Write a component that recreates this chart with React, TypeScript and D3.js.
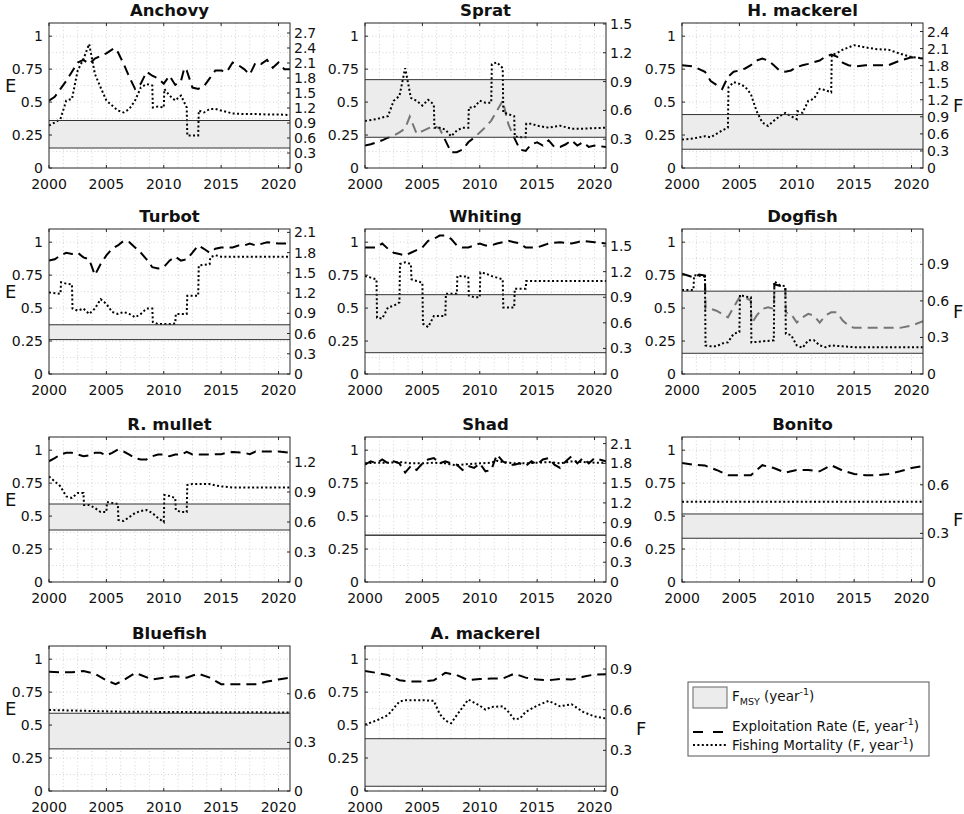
import * as d3 from "d3"

type Pt = [number, number]

const species = ["Anchovy", "Sprat", "H. mackerel", "Turbot", "Whiting", "Dogfish", "R. mullet", "Shad", "Bonito", "Bluefish", "A. mackerel"]

const yearTicks = [2000, 2005, 2010, 2015, 2020]
const eTicks = [0, 0.25, 0.5, 0.75, 1]
const fTickStep = 0.3

// right axis upper limit per species (F, year^-1)
const fAxisMax = [2.9, 1.51, 2.55, 2.15, 1.7, 1.19, 1.45, 2.2, 0.895, 0.895, 1.07]
// F_MSY band, lower / upper (F units)
const fmsyLo = [0.40, 0.32, 0.33, 0.51, 0.25, 0.17, 0.52, 0.71, 0.27, 0.26, 0.035]
const fmsyHi = [0.95, 0.92, 0.94, 0.73, 0.93, 0.68, 0.78, 0.71, 0.42, 0.48, 0.386]

// exploitation rate E (left axis)
const anchovyE: Pt[] = [[2000,0.51],[2000.5,0.54],[2001,0.60],[2001.5,0.66],[2002,0.73],[2002.5,0.80],[2003,0.82],[2003.5,0.79],[2004,0.83],[2004.5,0.85],[2005,0.87],[2005.7,0.91],[2006,0.88],[2006.5,0.79],[2007,0.69],[2007.5,0.60],[2008,0.64],[2008.5,0.73],[2009,0.70],[2009.5,0.68],[2010,0.64],[2010.5,0.70],[2011,0.63],[2011.5,0.66],[2011.8,0.76],[2012,0.74],[2012.5,0.61],[2013,0.60],[2013.5,0.62],[2014,0.68],[2014.5,0.74],[2015,0.74],[2015.5,0.73],[2016,0.80],[2016.5,0.78],[2017,0.75],[2017.5,0.71],[2018,0.80],[2018.5,0.79],[2019,0.82],[2019.5,0.76],[2020,0.80],[2020.5,0.75],[2021,0.75]]
const spratE: Pt[] = [[2000,0.17],[2000.5,0.18],[2001,0.195],[2001.5,0.21],[2002,0.23],[2002.5,0.245],[2003,0.27],[2003.5,0.30],[2003.9,0.39],[2004.5,0.26],[2005,0.28],[2005.5,0.30],[2006,0.32],[2006.5,0.30],[2007,0.21],[2007.5,0.12],[2008,0.12],[2008.5,0.14],[2009,0.195],[2009.5,0.23],[2010,0.27],[2010.5,0.31],[2011,0.36],[2011.5,0.435],[2012,0.51],[2012.5,0.33],[2013,0.23],[2013.5,0.14],[2014,0.13],[2014.5,0.18],[2015,0.195],[2015.5,0.17],[2016,0.21],[2016.5,0.16],[2017,0.16],[2017.5,0.18],[2018,0.21],[2018.5,0.17],[2019,0.195],[2019.5,0.16],[2020,0.17],[2021,0.16]]
const hMackerelE: Pt[] = [[2000,0.78],[2001,0.77],[2002,0.73],[2002.5,0.66],[2003,0.63],[2003.5,0.60],[2004,0.69],[2004.5,0.73],[2005,0.74],[2005.5,0.755],[2006,0.78],[2006.5,0.815],[2007,0.83],[2007.5,0.815],[2008,0.78],[2008.5,0.74],[2009,0.73],[2009.5,0.74],[2010,0.765],[2010.5,0.78],[2011,0.79],[2012,0.815],[2012.5,0.845],[2013,0.86],[2013.5,0.845],[2014,0.80],[2014.5,0.78],[2015,0.77],[2016,0.78],[2017,0.78],[2018,0.78],[2019,0.815],[2020,0.84],[2021,0.83]]
const turbotE: Pt[] = [[2000,0.86],[2000.5,0.87],[2001,0.90],[2001.5,0.92],[2002,0.91],[2002.5,0.92],[2003,0.885],[2003.5,0.87],[2004,0.75],[2004.5,0.835],[2005,0.90],[2005.5,0.95],[2006,0.975],[2006.5,1.01],[2007,1.0],[2007.5,0.96],[2008,0.92],[2008.5,0.87],[2009,0.81],[2009.5,0.80],[2010,0.81],[2010.5,0.86],[2011,0.89],[2011.5,0.86],[2012,0.87],[2012.5,0.92],[2013,0.975],[2013.5,0.95],[2014,0.92],[2014.5,0.95],[2015,0.96],[2016,0.96],[2016.5,0.975],[2017,0.975],[2017.5,0.99],[2018,0.975],[2019,1.0],[2020,0.99],[2021,0.99]]
const whitingE: Pt[] = [[2000,0.96],[2001,0.96],[2001.5,0.99],[2002,0.95],[2002.5,0.92],[2003,0.91],[2003.5,0.90],[2004,0.92],[2004.5,0.94],[2005,0.96],[2005.5,1.01],[2006,1.025],[2006.5,1.05],[2007,1.05],[2007.5,1.025],[2008,0.975],[2008.5,0.96],[2009,0.96],[2009.5,0.975],[2010,0.99],[2010.5,0.975],[2011,0.975],[2011.5,0.99],[2012,1.0],[2012.5,1.01],[2013,1.0],[2013.5,0.99],[2014,0.96],[2015,0.96],[2015.5,0.975],[2016,0.99],[2017,1.0],[2018,0.99],[2018.5,1.0],[2019,1.01],[2020,1.0],[2021,0.99]]
const dogfishE: Pt[] = [[2000,0.76],[2000.5,0.747],[2001,0.734],[2001.5,0.754],[2002,0.747],[2002.05,0.494],[2002.5,0.494],[2003,0.48],[2003.5,0.456],[2004,0.43],[2004.5,0.506],[2005,0.58],[2005.5,0.58],[2006,0.557],[2006.05,0.38],[2006.5,0.443],[2007,0.494],[2007.5,0.506],[2008,0.494],[2008.05,0.68],[2008.5,0.67],[2009,0.66],[2009.05,0.468],[2009.5,0.456],[2010,0.39],[2010.5,0.43],[2011,0.456],[2011.5,0.443],[2012,0.39],[2012.5,0.443],[2013,0.468],[2013.5,0.468],[2014,0.405],[2014.5,0.367],[2015,0.35],[2019,0.35],[2020,0.367],[2021,0.40]]
const rMulletE: Pt[] = [[2000,0.916],[2000.5,0.94],[2001,0.967],[2001.5,0.98],[2002,0.98],[2002.5,0.967],[2003,0.954],[2003.5,0.96],[2004,0.98],[2004.5,0.98],[2005,0.96],[2005.5,0.98],[2006,1.005],[2006.5,0.99],[2007,0.967],[2007.5,0.94],[2008,0.93],[2008.5,0.93],[2009,0.954],[2009.5,0.967],[2010,0.967],[2010.5,0.954],[2011,0.967],[2011.5,0.967],[2012,0.987],[2012.5,0.967],[2013,0.967],[2014,0.967],[2015,0.97],[2015.5,0.98],[2016,0.987],[2017,0.98],[2017.5,0.97],[2018,0.99],[2019,0.99],[2020,0.99],[2021,0.98]]
const shadE: Pt[] = [[2000,0.89],[2000.5,0.916],[2001,0.90],[2001.5,0.93],[2002,0.90],[2002.5,0.916],[2003,0.90],[2003.5,0.83],[2004,0.88],[2004.5,0.85],[2005,0.90],[2005.5,0.93],[2006,0.94],[2006.5,0.90],[2007,0.916],[2007.5,0.90],[2008,0.89],[2008.5,0.85],[2009,0.88],[2009.5,0.865],[2010,0.90],[2010.5,0.84],[2011,0.85],[2011.5,0.967],[2012,0.916],[2012.5,0.89],[2013,0.89],[2013.5,0.90],[2014,0.88],[2014.5,0.916],[2015,0.89],[2015.5,0.93],[2016,0.94],[2016.5,0.89],[2017,0.865],[2017.5,0.916],[2018,0.954],[2018.5,0.90],[2019,0.94],[2019.5,0.90],[2020,0.94],[2021,0.916]]
const bonitoE: Pt[] = [[2000,0.903],[2001,0.89],[2002,0.883],[2003,0.85],[2004,0.81],[2005,0.81],[2006,0.81],[2007,0.886],[2008,0.865],[2009,0.83],[2010,0.85],[2011,0.85],[2012,0.84],[2013,0.886],[2014,0.845],[2015,0.82],[2016,0.81],[2017,0.81],[2018,0.82],[2019,0.84],[2020,0.865],[2021,0.88]]
const bluefishE: Pt[] = [[2000,0.904],[2001,0.90],[2002,0.90],[2003,0.91],[2004,0.89],[2005,0.84],[2005.8,0.81],[2006.5,0.84],[2007.5,0.896],[2008,0.88],[2009,0.846],[2010,0.86],[2011,0.87],[2012,0.86],[2013,0.89],[2014,0.86],[2015,0.81],[2016,0.81],[2017,0.81],[2018,0.81],[2019,0.83],[2020,0.846],[2021,0.86]]
const aMackerelE: Pt[] = [[2000,0.91],[2001,0.896],[2002,0.88],[2003,0.84],[2004,0.83],[2005,0.83],[2006,0.84],[2007,0.896],[2008,0.88],[2009,0.84],[2010,0.85],[2011,0.853],[2012,0.853],[2013,0.89],[2014,0.86],[2015,0.845],[2016,0.84],[2017,0.85],[2018,0.845],[2019,0.866],[2020,0.884],[2021,0.886]]

// fishing mortality F (right axis)
const anchovyF: Pt[] = [[2000,0.85],[2000.5,0.91],[2001,0.98],[2001.5,1.35],[2002,1.38],[2002.5,1.95],[2003,2.18],[2003.5,2.48],[2004,1.88],[2004.5,1.61],[2005,1.35],[2005.5,1.25],[2006,1.15],[2006.5,1.11],[2007,1.18],[2007.5,1.35],[2008,1.61],[2008.5,1.68],[2009,1.65],[2009.05,1.21],[2009.5,1.23],[2010,1.21],[2010.05,1.58],[2010.5,1.45],[2011,1.35],[2011.5,1.45],[2012,1.21],[2012.05,0.65],[2012.5,0.65],[2013,0.65],[2013.05,1.15],[2013.5,1.11],[2014,1.18],[2014.5,1.18],[2015,1.15],[2016,1.09],[2017,1.08],[2018,1.08],[2019,1.07],[2020,1.07],[2021,1.06]]
const spratF: Pt[] = [[2000,0.49],[2001,0.51],[2002,0.54],[2002.5,0.70],[2003,0.75],[2003.5,1.04],[2004,0.73],[2004.5,0.70],[2005,0.65],[2005.5,0.71],[2006,0.66],[2006.05,0.42],[2006.5,0.42],[2007,0.40],[2007.5,0.33],[2008,0.39],[2008.5,0.42],[2009,0.42],[2009.05,0.63],[2009.5,0.63],[2010,0.70],[2010.5,0.68],[2011,0.68],[2011.05,1.08],[2011.5,1.10],[2012,1.04],[2012.05,0.58],[2012.5,0.56],[2013,0.54],[2013.05,0.33],[2013.5,0.32],[2014,0.32],[2014.05,0.46],[2014.5,0.46],[2015,0.44],[2016,0.42],[2017,0.44],[2018,0.41],[2019,0.41],[2021,0.42]]
const hMackerelF: Pt[] = [[2000,0.50],[2001,0.52],[2002,0.56],[2002.5,0.54],[2003,0.60],[2003.5,0.66],[2004,0.71],[2004.05,1.42],[2004.5,1.51],[2005,1.48],[2005.5,1.43],[2006,1.30],[2006.5,1.00],[2007,0.80],[2007.5,0.74],[2008,0.83],[2008.5,0.91],[2009,0.97],[2009.5,0.91],[2010,0.86],[2010.05,1.00],[2010.5,0.97],[2011,1.18],[2011.5,1.22],[2012,1.39],[2012.5,1.37],[2013,1.33],[2013.05,1.99],[2013.5,2.02],[2014,2.08],[2015,2.16],[2016,2.12],[2017,2.09],[2018,2.08],[2019,2.01],[2020,1.95],[2021,1.93]]
const turbotF: Pt[] = [[2000,1.21],[2001,1.19],[2001.05,1.36],[2001.5,1.34],[2002,1.33],[2002.05,0.97],[2002.5,0.94],[2003,0.97],[2003.5,0.89],[2004,0.97],[2004.5,1.11],[2005,1.04],[2005.5,0.92],[2006,0.89],[2006.5,0.92],[2007,0.89],[2007.5,0.84],[2008,0.89],[2008.5,0.97],[2009,0.97],[2009.05,0.77],[2009.5,0.74],[2010.5,0.74],[2011,0.75],[2011.05,0.89],[2012,0.89],[2012.05,1.16],[2013,1.16],[2013.05,1.61],[2014,1.63],[2014.05,1.73],[2014.5,1.76],[2015,1.74],[2021,1.74]]
const whitingF: Pt[] = [[2000,1.15],[2000.5,1.13],[2001,1.11],[2001.05,0.66],[2001.5,0.65],[2002,0.78],[2002.5,0.80],[2003,0.84],[2003.05,1.29],[2003.5,1.31],[2004,1.29],[2004.05,1.11],[2004.5,1.09],[2005,1.07],[2005.05,0.59],[2005.5,0.55],[2006,0.68],[2007,0.68],[2007.05,0.94],[2008,0.94],[2008.05,1.15],[2009,1.14],[2009.05,0.92],[2009.5,0.90],[2010,0.90],[2010.05,1.19],[2010.5,1.18],[2011,1.15],[2011.5,1.13],[2012,1.11],[2012.05,0.78],[2013,0.78],[2013.05,1.0],[2014,1.0],[2014.05,1.09],[2021,1.09]]
const dogfishF: Pt[] = [[2000,0.69],[2001,0.69],[2001.05,0.81],[2002,0.80],[2002.05,0.235],[2002.5,0.227],[2003,0.227],[2003.5,0.25],[2004,0.26],[2004.5,0.33],[2005,0.345],[2005.05,0.65],[2005.5,0.635],[2006,0.63],[2006.05,0.26],[2008,0.276],[2008.05,0.76],[2008.5,0.73],[2009,0.72],[2009.05,0.33],[2009.5,0.32],[2010,0.235],[2010.5,0.215],[2011,0.276],[2011.5,0.276],[2012,0.235],[2012.5,0.22],[2013,0.235],[2014,0.227],[2015,0.22],[2021,0.22]]
const rMulletF: Pt[] = [[2000,1.055],[2000.5,1.006],[2001,0.956],[2001.5,0.856],[2002,0.84],[2002.5,0.89],[2003,0.89],[2003.05,0.77],[2003.5,0.77],[2004,0.74],[2004.5,0.70],[2005,0.70],[2005.05,0.80],[2005.5,0.79],[2006,0.78],[2006.05,0.62],[2006.5,0.61],[2007,0.65],[2007.5,0.69],[2008,0.71],[2008.5,0.72],[2009,0.69],[2009.5,0.64],[2010,0.60],[2010.05,0.87],[2010.5,0.86],[2011,0.84],[2011.05,0.72],[2011.5,0.70],[2012,0.70],[2012.05,0.97],[2012.5,0.98],[2014,0.98],[2014.5,0.966],[2015,0.956],[2016,0.945],[2021,0.945]]
const shadF: Pt[] = [[2000,1.80],[2001,1.81],[2002,1.81],[2003,1.82],[2004,1.80],[2005,1.80],[2006,1.81],[2007,1.80],[2008,1.77],[2009,1.79],[2010,1.80],[2011,1.81],[2011.5,1.84],[2012,1.82],[2013,1.80],[2014,1.80],[2015,1.81],[2016,1.82],[2017,1.80],[2018,1.83],[2019,1.82],[2020,1.81],[2021,1.81]]
const bonitoF: Pt[] = [[2000,0.495],[2005,0.495],[2010,0.495],[2015,0.495],[2021,0.495]]
const bluefishF: Pt[] = [[2000,0.50],[2003,0.495],[2006,0.49],[2010,0.488],[2015,0.486],[2021,0.485]]
const aMackerelF: Pt[] = [[2000,0.49],[2001,0.52],[2002,0.56],[2003,0.66],[2003.5,0.67],[2004,0.67],[2005,0.67],[2006,0.665],[2006.5,0.57],[2007,0.52],[2007.5,0.50],[2008,0.56],[2009,0.675],[2010,0.63],[2010.5,0.60],[2011,0.62],[2012,0.625],[2012.5,0.584],[2013,0.53],[2013.5,0.535],[2014,0.584],[2015,0.63],[2016,0.665],[2017,0.625],[2018,0.64],[2019,0.584],[2020,0.55],[2021,0.535]]

const eSeries = [anchovyE, spratE, hMackerelE, turbotE, whitingE, dogfishE, rMulletE, shadE, bonitoE, bluefishE, aMackerelE]
const fSeries = [anchovyF, spratF, hMackerelF, turbotF, whitingF, dogfishF, rMulletF, shadF, bonitoF, bluefishF, aMackerelF]

const FONT = "DejaVu Sans, Liberation Sans, sans-serif"
const colX = [49, 365, 682]
const rowY = [23, 229, 437, 646]
const W = 241
const H = 145
const INK = "#262626"
const BAND = "#ececec"
const DASH = "10,6"
const DOT = "2,2.4"

type PanelProps = { i: number, left: number, top: number, showE: boolean, showF: boolean }

const Panel = ({ i, left, top, showE, showF }: PanelProps) => {
  const x = d3.scaleLinear().domain([2000, 2021]).range([left, left + W])
  const yE = d3.scaleLinear().domain([0, 1.1]).range([top + H, top])
  const yF = d3.scaleLinear().domain([0, fAxisMax[i]]).range([top + H, top])

  const lineE = d3.line<Pt>().x(d => x(d[0])).y(d => yE(d[1]))
  const lineF = d3.line<Pt>().x(d => x(d[0])).y(d => yF(d[1]))

  const gridX = d3.range(2001.25, 2021, 1.25)
  const gridY = d3.range(0.125, 1.1, 0.125)
  const fTicks = d3.range(0, fAxisMax[i] + 1e-6, fTickStep)

  const bandTop = yF(fmsyHi[i])
  const bandBot = yF(fmsyLo[i])
  const clipId = `clip${i}`
  const midY = top + H / 2

  return (
    <g>
      <defs>
        <clipPath id={clipId}><rect x={left} y={top} width={W} height={H} /></clipPath>
      </defs>
      <rect x={left} y={top} width={W} height={H} fill="#fff" />
      <g stroke="#c9c9c9" strokeWidth={0.8} strokeDasharray="1,2.5">
        {gridX.map(g => <line key={"gx" + g} x1={x(g)} x2={x(g)} y1={top} y2={top + H} />)}
        {gridY.map(g => <line key={"gy" + g} x1={left} x2={left + W} y1={yE(g)} y2={yE(g)} />)}
      </g>
      <rect x={left} y={bandTop} width={W} height={bandBot - bandTop} fill={BAND} />
      <g clipPath={`url(#${clipId})`}>
        <path d={lineE(eSeries[i]) ?? ""} fill="none" stroke="#000" strokeWidth={2} strokeDasharray={DASH} />
        {/* the F_MSY patch sits over the E line, greying it inside the band */}
        <rect x={left} y={bandTop} width={W} height={bandBot - bandTop} fill={BAND} fillOpacity={0.5} />
        <path d={lineF(fSeries[i]) ?? ""} fill="none" stroke="#000" strokeWidth={2} strokeDasharray={DOT} />
      </g>
      <line x1={left} x2={left + W} y1={bandTop} y2={bandTop} stroke="#333" strokeWidth={1} />
      <line x1={left} x2={left + W} y1={bandBot} y2={bandBot} stroke="#333" strokeWidth={1} />
      <rect x={left} y={top} width={W} height={H} fill="none" stroke={INK} strokeWidth={1} />

      {yearTicks.map(t => (
        <g key={"xt" + t}>
          <line x1={x(t)} x2={x(t)} y1={top + H} y2={top + H - 3} stroke={INK} />
          <line x1={x(t)} x2={x(t)} y1={top} y2={top + 3} stroke={INK} />
          <text x={x(t)} y={top + H + 21} textAnchor="middle" fontSize={14} fontFamily={FONT} fill="#111">{t}</text>
        </g>
      ))}
      {eTicks.map(t => (
        <g key={"et" + t}>
          <line x1={left} x2={left + 3} y1={yE(t)} y2={yE(t)} stroke={INK} />
          <text x={left - 6} y={yE(t)} dy="0.36em" textAnchor="end" fontSize={14} fontFamily={FONT} fill="#111">{String(t)}</text>
        </g>
      ))}
      {fTicks.map(t => (
        <g key={"ft" + t}>
          <line x1={left + W} x2={left + W - 3} y1={yF(t)} y2={yF(t)} stroke={INK} />
          <text x={left + W + 4} y={yF(t)} dy="0.36em" textAnchor="start" fontSize={14} fontFamily={FONT} fill="#111">{t < 1e-6 ? "0" : t.toFixed(1)}</text>
        </g>
      ))}

      <text x={left + W / 2} y={top - 7} textAnchor="middle" fontSize={16.5} fontWeight="bold" fontFamily={FONT} fill="#111">{species[i]}</text>
      {showE && <text x={left - 44} y={midY - 10} dy="0.36em" fontSize={18} fontFamily={FONT} fill="#111">E</text>}
      {showF && <text x={left + W + 30} y={midY + 10} dy="0.36em" fontSize={18} fontFamily={FONT} fill="#111">F</text>}
    </g>
  )
}

const Legend = () => {
  const lx = 688, ly = 682, lw = 241, lh = 74
  return (
    <g fontFamily={FONT} fill="#111">
      <rect x={lx} y={ly} width={lw} height={lh} fill="#fff" stroke="#555" strokeWidth={1} />
      <rect x={693} y={687} width={34} height={21} fill={BAND} stroke="#666" strokeWidth={1} />
      <text x={732} y={701} fontSize={13.5}>
        F<tspan fontSize={9.5} dy={4}>MSY</tspan><tspan dy={-4}> (year</tspan><tspan fontSize={9.5} dy={-6}>-1</tspan><tspan dy={6}>)</tspan>
      </text>
      <line x1={693} x2={723} y1={732} y2={732} stroke="#000" strokeWidth={2} strokeDasharray="10,10" />
      <text x={732} y={731} fontSize={13.5}>
        Exploitation Rate (E, year<tspan fontSize={9.5} dy={-6}>-1</tspan><tspan dy={6}>)</tspan>
      </text>
      <line x1={693} x2={727} y1={745} y2={745} stroke="#000" strokeWidth={2} strokeDasharray={DOT} />
      <text x={732} y={750} fontSize={13.5}>
        Fishing Mortality (F, year<tspan fontSize={9.5} dy={-6}>-1</tspan><tspan dy={6}>)</tspan>
      </text>
    </g>
  )
}

const App = () => {
  return (
    <svg width={964} height={814} viewBox="0 0 964 814" style={{ position: "absolute", left: 0, top: 0, background: "#fff" }}>
      <rect width={964} height={814} fill="#fff" />
      {species.map((_, i) => {
        const col = i % 3
        const row = Math.floor(i / 3)
        const last = i === species.length - 1
        return <Panel key={species[i]} i={i} left={colX[col]} top={rowY[row]} showE={col === 0} showF={col === 2 || last} />
      })}
      <Legend />
    </svg>
  )
}

export default App
